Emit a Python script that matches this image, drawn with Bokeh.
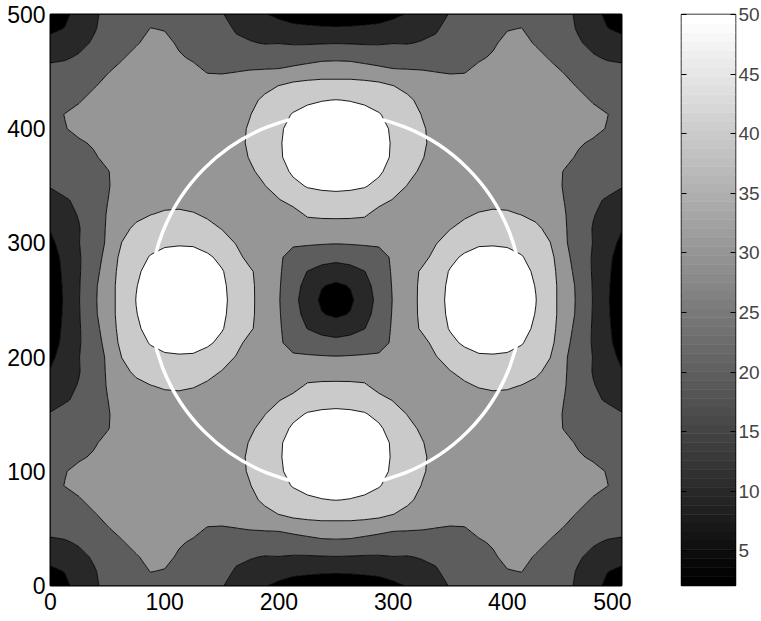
import numpy as np
from bokeh.plotting import figure
from bokeh.layouts import row
from bokeh.models import FixedTicker, LinearAxis, Range1d
from bokeh.embed import file_html
from bokeh.resources import INLINE

# Field values on a 12.5-unit grid over the lower-left quarter (x, y = 0..250).
# Row k holds y = 12.5*k and the values for x = 0, 12.5, ..., y (x <= y);
# the field is symmetric about the diagonal and about both centre lines.
grid_step = 12.5
quarter_rows = [
    [2.5],
    [8.0, 10.3],
    [13.5, 14.5, 17.5],
    [18.2, 19.0, 21.0, 23.6],
    [22.8, 23.3, 25.0, 27.3, 29.8],
    [25.3, 26.5, 28.0, 29.7, 31.0, 31.5],
    [27.3, 28.3, 29.7, 31.0, 32.0, 32.7, 33.0],
    [28.6, 30.1, 31.0, 31.8, 32.3, 32.8, 33.1, 33.2],
    [29.0, 29.8, 31.0, 31.8, 32.5, 32.8, 33.0, 33.3, 33.5],
    [28.5, 28.9, 29.5, 30.4, 31.5, 32.3, 33.0, 33.3, 33.7, 34.0],
    [27.0, 27.5, 28.0, 29.5, 31.0, 32.2, 33.0, 33.5, 34.0, 34.2, 34.5],
    [24.3, 25.0, 26.2, 28.0, 29.8, 31.5, 32.8, 33.8, 34.3, 34.6, 34.8, 35.0],
    [20.5, 22.5, 24.6, 27.2, 29.6, 32.0, 34.0, 34.7, 35.0, 35.2, 35.0, 35.3, 35.5],
    [17.3, 19.2, 21.5, 26.0, 29.9, 33.0, 35.3, 36.8, 37.5, 37.7, 37.3, 36.7, 36.2, 36.5],
    [14.0, 17.5, 20.5, 26.0, 30.5, 34.5, 37.5, 39.8, 41.0, 41.3, 40.5, 39.0, 38.0, 37.5, 37.0],
    [10.8, 16.0, 19.6, 25.5, 30.9, 37.2, 42.0, 44.0, 45.0, 45.5, 45.2, 42.0, 39.8, 37.5, 36.8, 35.5],
    [7.8, 14.5, 19.8, 25.5, 31.2, 40.2, 44.5, 47.5, 48.8, 49.2, 49.0, 46.8, 43.5, 39.6, 36.9, 34.3, 32.0],
    [5.8, 12.5, 19.3, 25.0, 33.3, 42.5, 47.0, 50.5, 52.5, 53.0, 52.8, 51.3, 48.0, 42.5, 37.2, 33.5, 31.2, 27.0],
    [4.6, 12.0, 19.2, 26.5, 34.5, 43.5, 48.8, 52.3, 54.5, 55.2, 55.0, 53.3, 50.6, 46.0, 41.0, 36.0, 31.0, 25.5, 19.8],
    [3.6, 11.5, 19.5, 27.8, 35.6, 43.8, 49.7, 53.3, 55.6, 56.5, 56.2, 54.6, 51.5, 46.8, 41.5, 36.3, 30.8, 23.5, 17.0, 10.5],
    [3.0, 11.3, 19.7, 28.0, 36.2, 43.3, 50.2, 53.5, 56.0, 57.0, 56.6, 55.0, 52.0, 46.9, 41.7, 36.1, 30.5, 22.8, 15.3, 8.3, 2.1],
]

contour_levels = [10, 20, 30, 40, 50]
axis_ticks = [0, 100, 200, 300, 400, 500]
colorbar_ticks = [5, 10, 15, 20, 25, 30, 35, 40, 45, 50]
ring_center = [250]
ring_radius = 163

# assemble the full 500 x 500 field from the quarter table
n = len(quarter_rows)
q = np.zeros((n, n))
for k, vals in enumerate(quarter_rows):
    q[k, :k + 1] = vals
    q[:k + 1, k] = vals
half = np.hstack([q, q[:, -2::-1]])
field = np.vstack([half, half[-2::-1, :]])
qc = np.arange(n) * grid_step
coords = np.concatenate([qc, 500.0 - qc[-2::-1]])
X, Y = np.meshgrid(coords, coords)

# 64-step gray colormap, scaled from the field minimum to the top level
gray64 = ["#%02x%02x%02x" % ((round(k * 255 / 63),) * 3) for k in range(64)]
cmin = float(field.min())
cmax = float(contour_levels[-1])


def level_color(v):
    idx = int((v - cmin) / (cmax - cmin) * 64)
    return gray64[max(0, min(63, idx))]


fill_levels = [0.0] + contour_levels + [100.0]
fill_colors = [level_color(cmin)] + [level_color(v) for v in contour_levels]

FONT = "Liberation Sans"

p = figure(
    frame_width=571, frame_height=571,
    x_range=Range1d(0, 500), y_range=Range1d(0, 500),
    toolbar_location=None, output_backend="svg",
    min_border_left=50, min_border_right=10,
    min_border_top=14, min_border_bottom=36,
    background_fill_color="white", border_fill_color="white",
)
p.contour(X, Y, field, levels=fill_levels, fill_color=fill_colors,
          line_color="black", line_width=0.9)
p.circle(x=ring_center, y=ring_center, radius=ring_radius,
         fill_color=None, line_color="white", line_width=3.5)

p.grid.visible = False
p.outline_line_color = "black"
p.outline_line_width = 2
for ax in (p.xaxis[0], p.yaxis[0]):
    ax.ticker = FixedTicker(ticks=axis_ticks)
    ax.major_tick_in = 0
    ax.major_tick_out = 0
    ax.minor_tick_line_color = None
    ax.axis_line_color = None
    ax.major_label_text_font = FONT
    ax.major_label_text_font_size = "23px"
    ax.major_label_text_color = "black"
p.xaxis.major_label_standoff = 7
p.yaxis.major_label_standoff = 5

# colour bar as its own narrow panel
cb = figure(
    frame_width=54, frame_height=571,
    x_range=Range1d(0, 1), y_range=Range1d(cmin, cmax),
    x_axis_location=None, y_axis_location="right",
    toolbar_location=None, output_backend="svg",
    min_border_left=50, min_border_right=26,
    min_border_top=14, min_border_bottom=36,
    background_fill_color="white", border_fill_color="white",
)
edges = np.linspace(cmin, cmax, 65)
cb.quad(left=0, right=1, bottom=edges[:-1], top=edges[1:],
        fill_color=gray64, line_color=gray64, line_width=0.6)
cb.grid.visible = False
cb.outline_line_color = "black"
cb.outline_line_width = 1.5

right_ax = cb.yaxis[0]
left_ax = LinearAxis()
cb.add_layout(left_ax, "left")
for ax in (right_ax, left_ax):
    ax.ticker = FixedTicker(ticks=colorbar_ticks)
    ax.major_tick_in = 5
    ax.major_tick_out = 0
    ax.major_tick_line_color = "black"
    ax.minor_tick_line_color = None
    ax.axis_line_color = None
    ax.major_label_text_font = FONT
    ax.major_label_text_font_size = "19px"
    ax.major_label_standoff = 3
left_ax.major_label_text_alpha = 0
left_ax.major_label_text_font_size = "1px"

layout = row(p, cb)
open("out.html", "w").write(file_html(layout, INLINE))
